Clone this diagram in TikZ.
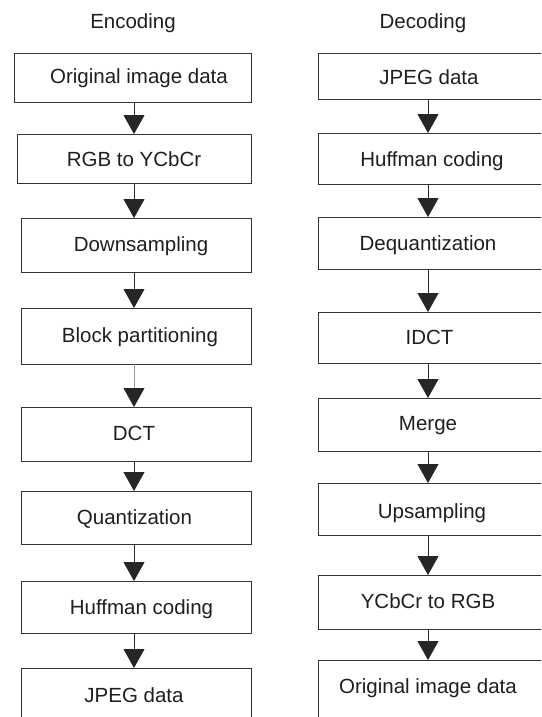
\documentclass[tikz,border=0pt]{standalone}
\usepackage{fontspec}
\setmainfont{Liberation Sans}
\usetikzlibrary{arrows.meta}
\begin{document}
\begin{tikzpicture}[x=1pt,y=-1pt,
  box/.style={draw=black!80,line width=1pt,rectangle,anchor=north west,inner sep=0pt,outer sep=0pt},
  lbl/.style={font=\fontsize{20.5pt}{24pt}\selectfont,text=black!88,inner sep=0pt,text height=14.7pt,text depth=0pt,anchor=center},
  arr/.style={draw=black!85,line width=1pt,-{Triangle[length=19pt,width=21pt]}}]
\useasboundingbox (0,0) rectangle (541,717);
\clip (0,0) rectangle (541,717);
\fill[white] (0,0) rectangle (541,717);
\coordinate (cl) at (134,0);
\coordinate (cr) at (428,0);
% titles
\node[lbl] (enc) at (133,21.5) {Encoding};
\node[lbl] (dec) at (423,21.5) {Decoding};
% encoding boxes
\node[box,minimum width=237pt,minimum height=48pt] (L1) at (14,54) {};
\node[box,minimum width=234pt,minimum height=49pt] (L2) at (17,134) {};
\node[box,minimum width=230pt,minimum height=54pt] (L3) at (21,218) {};
\node[box,minimum width=230pt,minimum height=56pt] (L4) at (21,308) {};
\node[box,minimum width=230pt,minimum height=54pt] (L5) at (21,407) {};
\node[box,minimum width=230pt,minimum height=53pt] (L6) at (21,491) {};
\node[box,minimum width=230pt,minimum height=52pt] (L7) at (21,581) {};
\node[box,minimum width=230pt,minimum height=90pt] (L8) at (21,668) {};
\node[lbl] (tl1) at (139,76.5) {Original image data};
\node[lbl] (tl2) at (134,159) {RGB to YCbCr};
\node[lbl] (tl3) at (141,244.5) {Downsampling};
\node[lbl] (tl4) at (140,335.5) {Block partitioning};
\node[lbl] (tl5) at (134,433) {DCT};
\node[lbl] (tl6) at (134.5,517.5) {Quantization};
\node[lbl] (tl7) at (141.5,607.5) {Huffman coding};
\node[lbl] (tl8) at (134,695) {JPEG data};
% decoding boxes
\node[box,minimum width=260pt,minimum height=45pt] (R1) at (318,54) {};
\node[box,minimum width=260pt,minimum height=51pt] (R2) at (318,133) {};
\node[box,minimum width=260pt,minimum height=52pt] (R3) at (318,217) {};
\node[box,minimum width=260pt,minimum height=51pt] (R4) at (318,312) {};
\node[box,minimum width=260pt,minimum height=53pt] (R5) at (318,398) {};
\node[box,minimum width=260pt,minimum height=52pt] (R6) at (318,483) {};
\node[box,minimum width=260pt,minimum height=54pt] (R7) at (318,575) {};
\node[box,minimum width=260pt,minimum height=90pt] (R8) at (318,660) {};
\node[lbl] (tr1) at (429,77) {JPEG data};
\node[lbl] (tr2) at (432,159.5) {Huffman coding};
\node[lbl] (tr3) at (428,243) {Dequantization};
\node[lbl] (tr4) at (429.5,337.5) {IDCT};
\node[lbl] (tr5) at (428,423.5) {Merge};
\node[lbl] (tr6) at (432,511.5) {Upsampling};
\node[lbl] (tr7) at (428,601) {YCbCr to RGB};
\node[lbl] (tr8) at (428,686) {Original image data};
% arrows
\foreach \a/\b in {L1/L2,L2/L3,L3/L4,L5/L6,L6/L7,L7/L8}
  \draw[arr] (\a.south -| cl) -- (\b.north -| cl);
\draw[arr,draw=black!40,-{Triangle[length=19pt,width=21pt,color=black!85]}] (L4.south -| cl) -- (L5.north -| cl);
\foreach \a/\b in {R1/R2,R2/R3,R3/R4,R4/R5,R5/R6,R6/R7,R7/R8}
  \draw[arr] (\a.south -| cr) -- (\b.north -| cr);
\end{tikzpicture}
\end{document}
